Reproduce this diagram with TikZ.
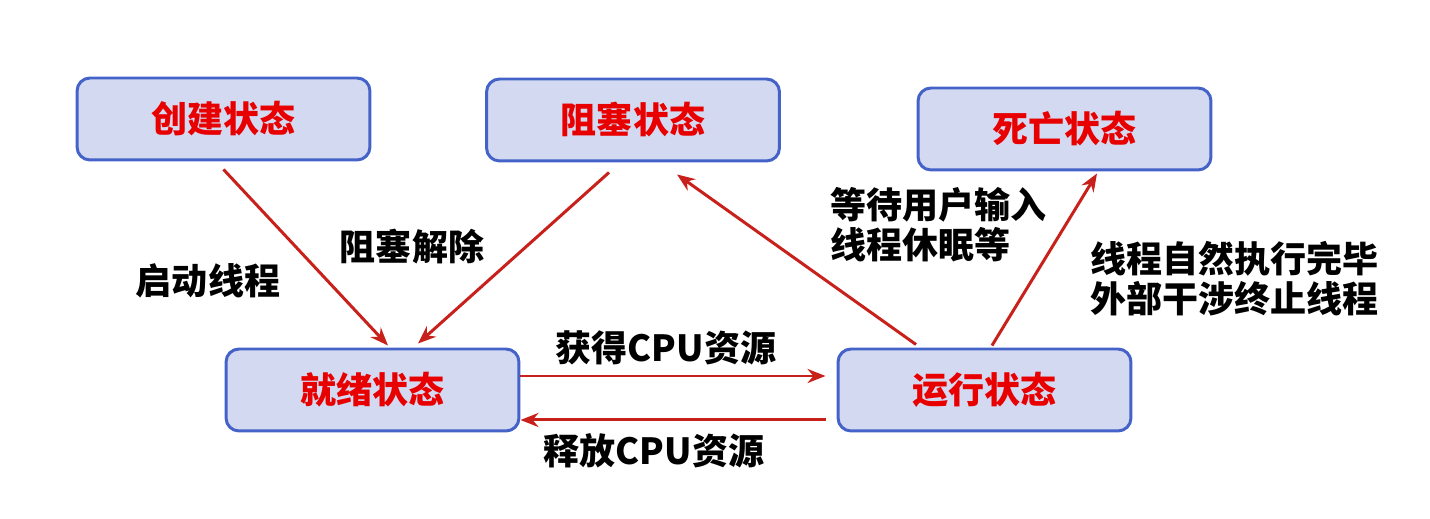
\documentclass[tikz,border=0pt]{standalone}
\usepackage{fontspec}
\setmainfont{Noto Sans CJK SC}
\usepackage{xcolor}
\usepackage{tikz}
\usetikzlibrary{arrows.meta,positioning}
\definecolor{boxblue}{HTML}{4462C8}
\definecolor{boxfill}{HTML}{D3D9F0}
\definecolor{titlered}{HTML}{E80000}
\definecolor{arrred}{HTML}{C8201A}
\tikzset{state/.style={draw=boxblue,line width=1.7pt,fill=boxfill,rounded corners=0.26cm,
           minimum width=5.86cm,minimum height=1.64cm,inner sep=0pt,
           text=titlered,font=\fontsize{20.5}{24}\selectfont\bfseries},
         lbl/.style={font=\fontsize{20.5}{22.7}\selectfont\bfseries,inner sep=0pt},
         arr/.style={arrred,line width=1.7pt,-{Stealth[length=0.36cm,width=0.28cm]},
           preaction={draw=black!30,opacity=0.45,transform canvas={shift={(0.03,-0.05)}}}}}

\begin{document}
\begin{tikzpicture}[x=0.02cm,y=-0.02cm]
            \useasboundingbox (0,0) rectangle (1430,519);
            % states
            \node[state] (create) at (223.5,119) {创建状态};
            \node[state] (blocked) at (633,120) {阻塞状态};
            \node[state] (dead) at (1064.5,129) {死亡状态};
            \node[state] (ready) at (372.5,390) {就绪状态};
            \node[state] (run) at (984.5,390) {运行状态};
            % transitions
            \draw[arr] ([yshift=-0.16cm]create.south) -- ([xshift=0.31cm,yshift=0.04cm]ready.north);
            \draw[arr] ([xshift=-0.48cm,yshift=-0.2cm]blocked.south) -- ([xshift=0.91cm,yshift=0.08cm]ready.north);
            \draw[arr] ([xshift=-1.37cm,yshift=0.06cm]run.north) -- ([xshift=0.88cm,yshift=-0.24cm]blocked.south);
            \draw[arr] ([xshift=0.15cm,yshift=0.04cm]run.north) -- ([xshift=0.65cm,yshift=-0.04cm]dead.south);
            \draw[arr] ([yshift=0.28cm]ready.east) -- ([xshift=-0.22cm,yshift=0.28cm]run.west);
            \draw[arr] ([xshift=-0.22cm,yshift=-0.6cm]run.west) -- ([yshift=-0.6cm]ready.east);
            % labels
            \node[lbl] (start) at (208,281) {启动线程};
            \node[lbl] (unblock) at (412,247) {阻塞解除};
            \node[lbl] (getcpu) at (666,348) {获得CPU资源};
            \node[lbl] (freecpu) at (654,451) {释放CPU资源};
            \node[lbl,anchor=west,align=left] (wait) at (830,225) {等待用户输入\\线程休眠等};
            \node[lbl,anchor=west,align=left] (finish) at (1090,279) {线程自然执行完毕\\外部干涉终止线程};
        \end{tikzpicture}
\end{document}
